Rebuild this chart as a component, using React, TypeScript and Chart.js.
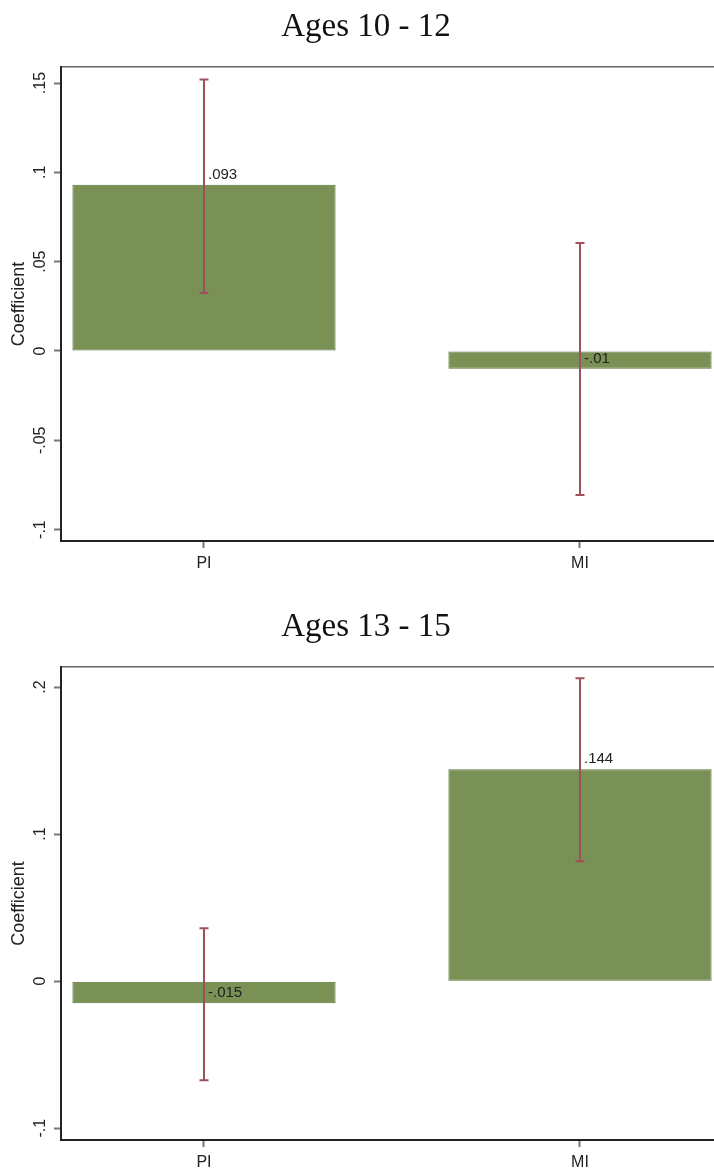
import React, { useEffect, useRef } from 'react';
import { Chart, registerables } from 'chart.js';

Chart.register(...registerables);

// ---------- data ----------
const categories = ['PI', 'MI'];
const categoryPositions = [0, 1];

const titles = ['Ages 10 - 12', 'Ages 13 - 15'];

const coef1 = [0.093, -0.01];
const lower1 = [0.0325, -0.0806];
const upper1 = [0.152, 0.0605];
const yTicks1 = [-0.1, -0.05, 0, 0.05, 0.1, 0.15];
const yTickLabels1 = ['-.1', '-.05', '0', '.05', '.1', '.15'];

const coef2 = [-0.015, 0.144];
const lower2 = [-0.0673, 0.0816];
const upper2 = [0.036, 0.206];
const yTicks2 = [-0.1, 0, 0.1, 0.2];
const yTickLabels2 = ['-.1', '0', '.1', '.2'];

const yTitle = 'Coefficient';

// ---------- styling ----------
const SANS = '"Liberation Sans", Arial, sans-serif';
const BAR_FILL = '#7a9156';
const BAR_BORDER = '#58733a';
const ERR_COLOR = '#a0505a';
const TEXT = '#222222';

const X_MIN = -0.3803;
const X_MAX = 1.3564;

const fmt = (v: number) => String(v).replace('0.', '.');

type PanelSpec = {
  coef: number[];
  lower: number[];
  upper: number[];
  yTicks: number[];
  yTickLabels: string[];
  yMin: number;
  yMax: number;
  padTop: number;
  xAxisHeight: number;
  yTickPad: number;
  canvasTop: number;
  canvasHeight: number;
};

const panels: PanelSpec[] = [
  {
    coef: coef1, lower: lower1, upper: upper1, yTicks: yTicks1, yTickLabels: yTickLabels1,
    yMin: -0.1064, yMax: 0.159, padTop: 67, xAxisHeight: 55, yTickPad: 0,
    canvasTop: 0, canvasHeight: 596,
  },
  {
    coef: coef2, lower: lower2, upper: upper2, yTicks: yTicks2, yTickLabels: yTickLabels2,
    yMin: -0.108, yMax: 0.2136, padTop: 71, xAxisHeight: 33, yTickPad: 4,
    canvasTop: 596, canvasHeight: 577,
  },
];

function makeErrorPlugin(p: PanelSpec) {
  return {
    id: 'errorBarsAndLabels',
    afterDatasetsDraw(chart: any) {
      const { ctx } = chart;
      const x = chart.scales.x;
      const y = chart.scales.y;
      ctx.save();
      ctx.strokeStyle = ERR_COLOR;
      ctx.lineWidth = 2;
      p.coef.forEach((_v, i) => {
        const px = x.getPixelForValue(categoryPositions[i]);
        const yl = y.getPixelForValue(p.lower[i]);
        const yu = y.getPixelForValue(p.upper[i]);
        ctx.beginPath();
        ctx.moveTo(px, yu);
        ctx.lineTo(px, yl);
        ctx.moveTo(px - 4.5, yu);
        ctx.lineTo(px + 4.5, yu);
        ctx.moveTo(px - 4.5, yl);
        ctx.lineTo(px + 4.5, yl);
        ctx.stroke();
      });
      ctx.fillStyle = TEXT;
      ctx.font = `15px ${SANS}`;
      ctx.textAlign = 'left';
      ctx.textBaseline = 'alphabetic';
      p.coef.forEach((v, i) => {
        const px = x.getPixelForValue(categoryPositions[i]);
        const py = y.getPixelForValue(v);
        ctx.fillText(fmt(v), px + 4, py - 6);
      });
      ctx.restore();
    },
  };
}

function Panel({ p }: { p: PanelSpec }) {
  const ref = useRef<HTMLCanvasElement>(null);
  useEffect(() => {
    const chart = new Chart(ref.current as HTMLCanvasElement, {
      type: 'bar',
      data: {
        datasets: [
          {
            data: categoryPositions.map((c, i) => ({ x: c, y: p.coef[i] })),
            backgroundColor: BAR_FILL,
            borderColor: BAR_BORDER,
            borderWidth: 1,
            borderSkipped: false,
            barPercentage: 0.7,
            categoryPercentage: 1,
          },
        ],
      },
      options: {
        animation: false,
        responsive: false,
        maintainAspectRatio: false,
        devicePixelRatio: 1,
        layout: { padding: { top: p.padTop, left: 0, right: 0, bottom: 0 } },
        plugins: { legend: { display: false }, tooltip: { enabled: false }, title: { display: false } },
        scales: {
          x: {
            type: 'linear',
            position: 'bottom',
            min: X_MIN,
            max: X_MAX,
            offset: false,
            afterBuildTicks: (s: any) => {
              s.ticks = categoryPositions.map((v) => ({ value: v }));
            },
            afterFit: (s: any) => {
              s.height = p.xAxisHeight;
            },
            ticks: {
              callback: (_v: any, i: number) => categories[i],
              color: TEXT,
              font: { family: SANS, size: 16 },
              padding: 6,
              autoSkip: false,
              minRotation: 0,
              maxRotation: 0,
            },
            grid: { drawOnChartArea: false, drawTicks: true, tickLength: 7, tickColor: '#777777', tickWidth: 2, offset: false },
            border: { display: true, color: '#222222', width: 2 },
          },
          xTop: {
            type: 'linear',
            position: 'top',
            min: X_MIN,
            max: X_MAX,
            ticks: { display: false },
            grid: { drawOnChartArea: false, drawTicks: false },
            border: { display: true, color: '#666666', width: 1.5 },
            afterFit: (s: any) => {
              s.height = 0;
            },
          },
          y: {
            type: 'linear',
            min: p.yMin,
            max: p.yMax,
            afterBuildTicks: (s: any) => {
              s.ticks = p.yTicks.map((v) => ({ value: v }));
            },
            afterFit: (s: any) => {
              s.width = 61;
            },
            ticks: {
              callback: (_v: any, i: number) => p.yTickLabels[i],
              minRotation: 90,
              maxRotation: 90,
              crossAlign: 'center',
              padding: p.yTickPad,
              autoSkip: false,
              color: TEXT,
              font: { family: SANS, size: 16 },
            },
            grid: { drawOnChartArea: false, drawTicks: true, tickLength: 7, tickColor: '#777777', tickWidth: 2 },
            border: { display: true, color: '#222222', width: 2 },
            title: {
              display: true,
              text: yTitle,
              color: TEXT,
              font: { family: SANS, size: 18 },
              padding: { top: 8, bottom: 0 },
            },
          },
        },
      } as any,
      plugins: [makeErrorPlugin(p)],
    } as any);
    return () => chart.destroy();
  }, [p]);
  return (
    <canvas
      ref={ref}
      width={714}
      height={p.canvasHeight}
      style={{ position: 'absolute', left: 0, top: p.canvasTop, width: 714, height: p.canvasHeight }}
    />
  );
}

const titleTops = [5, 605];

export default function App() {
  return (
    <div style={{ position: 'absolute', left: 0, top: 0, width: 714, height: 1173, background: '#ffffff', overflow: 'hidden' }}>
      {panels.map((p, i) => (
        <Panel key={i} p={p} />
      ))}
      {titles.map((t, i) => (
        <div
          key={t}
          style={{
            position: 'absolute',
            left: 0,
            top: titleTops[i],
            width: 732,
            textAlign: 'center',
            fontFamily: '"Liberation Serif", "Times New Roman", serif',
            fontSize: 33,
            lineHeight: '40px',
            color: '#111111',
            whiteSpace: 'nowrap',
          }}
        >
          {t}
        </div>
      ))}
    </div>
  );
}
